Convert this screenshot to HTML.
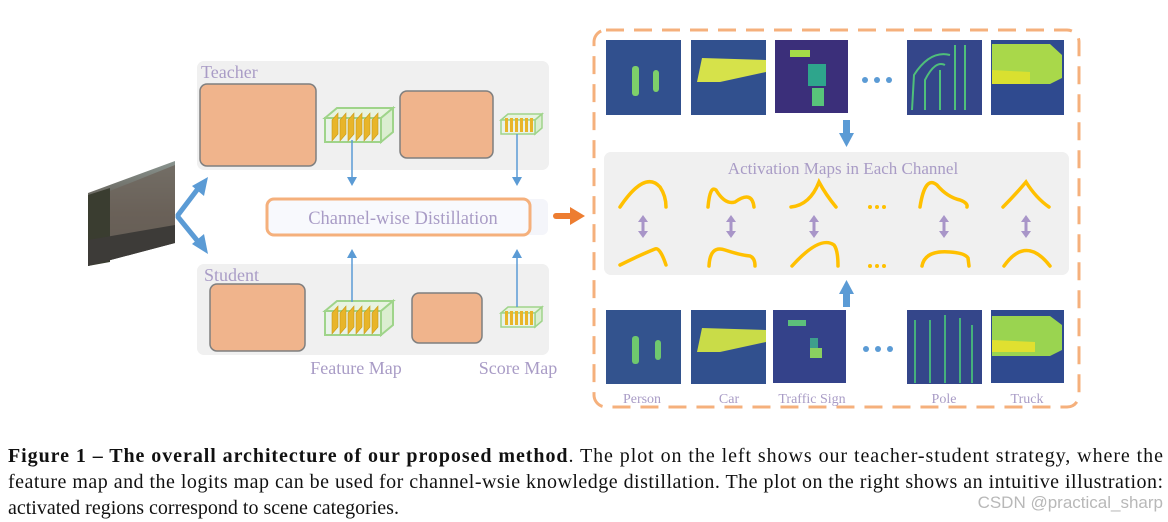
<!DOCTYPE html>
<html><head><meta charset="utf-8"><style>
html,body{margin:0;padding:0;background:#fff;}
svg{display:block;}
text{font-family:"Liberation Serif",serif;}
</style></head><body>
<svg width="1168" height="522" viewBox="0 0 1168 522" xmlns="http://www.w3.org/2000/svg">
<defs>
<linearGradient id="sky" x1="0" y1="0" x2="0" y2="1"><stop offset="0" stop-color="#8a9590"/><stop offset="0.5" stop-color="#5a5048"/><stop offset="1" stop-color="#3a3a36"/></linearGradient>
<g id="fm">
  <polygon points="0,10 12,0 68,0 56,10" fill="#e8f3e0" stroke="#9fd48a" stroke-width="2"/>
  <polygon points="56,10 68,0 68,24 56,34" fill="#dbeed0" stroke="#9fd48a" stroke-width="2"/>
  <rect x="0" y="10" width="56" height="24" fill="#e9f2ea" stroke="#9fd48a" stroke-width="2"/>
  <g fill="#e8b52a" stroke="#c99a18" stroke-width="0.6">
    <polygon points="7,12 13,5 13,26 7,33"/><polygon points="15,12 21,5 21,26 15,33"/><polygon points="23,12 29,5 29,26 23,33"/><polygon points="31,12 37,5 37,26 31,33"/><polygon points="39,12 45,5 45,26 39,33"/><polygon points="47,12 53,5 53,26 47,33"/>
  </g>
</g>
<g id="sm">
  <polygon points="0,6 7,0 41,0 34,6" fill="#e8f3e0" stroke="#9fd48a" stroke-width="1.5"/>
  <polygon points="34,6 41,0 41,14 34,20" fill="#dbeed0" stroke="#9fd48a" stroke-width="1.5"/>
  <rect x="0" y="6" width="34" height="14" fill="#e9f2ea" stroke="#9fd48a" stroke-width="1.5"/>
  <g fill="#e8b52a"><rect x="4" y="4" width="3" height="14"/><rect x="9" y="4" width="3" height="14"/><rect x="14" y="4" width="3" height="14"/><rect x="19" y="4" width="3" height="14"/><rect x="24" y="4" width="3" height="14"/><rect x="29" y="4" width="3" height="14"/></g>
</g>
</defs>

<!-- input image -->
<polygon points="88,193 175,161 175,243 88,266" fill="url(#sky)"/>
<polygon points="100,195 175,165 175,240 100,262" fill="#6e655c" opacity="0.8"/>
<polygon points="88,195 110,188 110,262 88,266" fill="#3a3d30"/>
<polygon points="88,240 175,225 175,243 88,266" fill="#3d3b38"/>
<!-- blue arrows -->
<g stroke="#5b9bd5" stroke-width="5" fill="none" stroke-linecap="round"><line x1="178" y1="215" x2="200" y2="186"/><line x1="178" y1="217" x2="200" y2="244"/></g>
<polygon points="208,177 204,196 192,186" fill="#5b9bd5"/>
<polygon points="208,254 192,244 204,234" fill="#5b9bd5"/>

<!-- teacher panel -->
<rect x="197" y="61" width="352" height="109" rx="7" fill="#f0f0f0"/>
<text x="201" y="78" font-size="18" fill="#a99cc6">Teacher</text>
<rect x="200" y="84" width="116" height="82" rx="7" fill="#f0b48c" stroke="#7f7f7f" stroke-width="1.5"/>
<rect x="400" y="91" width="93" height="67" rx="7" fill="#f0b48c" stroke="#7f7f7f" stroke-width="1.5"/>
<use href="#fm" x="325" y="108"/>
<use href="#sm" x="501" y="114"/>
<!-- student panel -->
<rect x="197" y="264" width="352" height="91" rx="7" fill="#f0f0f0"/>
<text x="204" y="281" font-size="18" fill="#a99cc6">Student</text>
<rect x="210" y="284" width="95" height="67" rx="7" fill="#f0b48c" stroke="#7f7f7f" stroke-width="1.5"/>
<rect x="412" y="293" width="70" height="50" rx="7" fill="#f0b48c" stroke="#7f7f7f" stroke-width="1.5"/>
<use href="#fm" x="325" y="301"/>
<use href="#sm" x="501" y="307"/>
<!-- distillation -->
<rect x="267" y="199" width="281" height="36" rx="6" fill="#f4f5fa"/>
<rect x="267" y="199" width="263" height="36" rx="7" fill="#f8f9fd" stroke="#f5b07c" stroke-width="3"/>
<text x="403" y="224" font-size="18.5" fill="#a99cc6" text-anchor="middle">Channel-wise Distillation</text>
<g stroke="#5b9bd5" stroke-width="1.5"><line x1="352" y1="140" x2="352" y2="180"/><line x1="517" y1="134" x2="517" y2="180"/><line x1="352" y1="256" x2="352" y2="302"/><line x1="517" y1="256" x2="517" y2="307"/></g>
<g fill="#5b9bd5"><polygon points="347,177 357,177 352,186"/><polygon points="512,177 522,177 517,186"/><polygon points="347,258 357,258 352,249"/><polygon points="512,258 522,258 517,249"/></g>
<text x="356" y="374" font-size="18" fill="#a99cc6" text-anchor="middle">Feature Map</text>
<text x="518" y="374" font-size="18" fill="#a99cc6" text-anchor="middle">Score Map</text>
<!-- orange arrow -->
<line x1="556" y1="216" x2="574" y2="216" stroke="#ed7d31" stroke-width="6" stroke-linecap="round"/>
<polygon points="570,207 585,216 570,225" fill="#ed7d31"/>

<!-- right dashed panel -->
<rect x="594" y="30" width="485" height="377" rx="12" fill="none" stroke="#f5b07c" stroke-width="3" stroke-dasharray="18,10"/>
<!-- top heatmaps -->
<g>
<rect x="606" y="40" width="75" height="75" fill="#31508e"/>
<g fill="#7ed06a"><rect x="632" y="66" width="7" height="30" rx="3"/><rect x="653" y="70" width="6" height="22" rx="3"/></g>
<rect x="691" y="40" width="75" height="75" fill="#31508e"/>
<path d="M697,82 L702,58 L766,60 L766,72 L720,82 Z" fill="#d6e24a"/>
<rect x="775" y="40" width="73" height="73" fill="#3b2f7a"/>
<rect x="790" y="50" width="20" height="7" fill="#a5dd48"/><rect x="808" y="64" width="18" height="22" fill="#2ea58c"/><rect x="812" y="88" width="12" height="18" fill="#58c47a"/>
<rect x="907" y="40" width="75" height="75" fill="#34468a"/>
<g stroke="#4fbf7a" stroke-width="2" fill="none"><path d="M912,110 L914,75 Q930,50 950,55"/><path d="M925,110 L925,80 Q935,60 945,65"/><path d="M955,110 L955,45"/><path d="M965,110 L965,45"/><path d="M940,110 L940,70"/></g>
<rect x="991" y="40" width="73" height="75" fill="#2f4a8f"/>
<path d="M992,44 L1050,44 L1062,55 L1062,78 L1050,84 L992,84 Z" fill="#a9d84a"/>
<path d="M992,70 L1030,72 L1030,84 L992,84Z" fill="#d9e030"/>
</g>
<g fill="#5b9bd5"><circle cx="865" cy="80" r="3"/><circle cx="877" cy="80" r="3"/><circle cx="889" cy="80" r="3"/></g>
<!-- down arrow -->
<rect x="843" y="120" width="7" height="16" fill="#5b9bd5"/><polygon points="839,133 854,133 846.5,147" fill="#5b9bd5"/>
<!-- gray panel -->
<rect x="604" y="152" width="465" height="123" rx="7" fill="#f0f0f0"/>
<text x="843" y="174" font-size="17" fill="#a99cc6" text-anchor="middle">Activation Maps in Each Channel</text>
<g stroke="#ffc000" stroke-width="3.5" fill="none" stroke-linecap="round">
<path d="M620,207 Q645,170 660,187 Q666,196 666,207"/>
<path d="M708,207 Q710,185 716,190 Q725,205 735,202 Q752,190 754,207"/>
<path d="M791,207 Q810,205 819,182 Q826,195 836,207"/>
<path d="M920,207 Q925,175 937,185 Q947,197 960,200 Q968,203 967,207"/>
<path d="M1003,207 Q1015,195 1026,182 Q1036,198 1049,207"/>
<path d="M620,265 Q640,255 655,249 Q660,247 666,265"/>
<path d="M709,266 Q710,245 725,250 Q740,255 750,256 Q755,258 755,266"/>
<path d="M792,266 Q820,235 834,245 Q838,250 838,266"/>
<path d="M922,266 Q925,250 950,252 Q965,253 968,258 L969,266"/>
<path d="M1004,266 Q1026,235 1050,266"/>
</g>
<g fill="#ffc000"><circle cx="870" cy="207" r="2"/><circle cx="877" cy="207" r="2"/><circle cx="884" cy="207" r="2"/><circle cx="870" cy="266" r="2"/><circle cx="877" cy="266" r="2"/><circle cx="884" cy="266" r="2"/></g>
<g stroke="#a895c8" stroke-width="3" fill="#a895c8">
<line x1="643" y1="220" x2="643" y2="233"/><polygon points="638,222 648,222 643,215" stroke="none"/><polygon points="638,231 648,231 643,238" stroke="none"/>
<line x1="731" y1="220" x2="731" y2="233"/><polygon points="726,222 736,222 731,215" stroke="none"/><polygon points="726,231 736,231 731,238" stroke="none"/>
<line x1="814" y1="220" x2="814" y2="233"/><polygon points="809,222 819,222 814,215" stroke="none"/><polygon points="809,231 819,231 814,238" stroke="none"/>
<line x1="944" y1="220" x2="944" y2="233"/><polygon points="939,222 949,222 944,215" stroke="none"/><polygon points="939,231 949,231 944,238" stroke="none"/>
<line x1="1026" y1="220" x2="1026" y2="233"/><polygon points="1021,222 1031,222 1026,215" stroke="none"/><polygon points="1021,231 1031,231 1026,238" stroke="none"/>
</g>
<!-- up arrow -->
<polygon points="839,294 854,294 846.5,280" fill="#5b9bd5"/><rect x="843" y="292" width="7" height="15" fill="#5b9bd5"/>
<!-- bottom heatmaps -->
<g>
<rect x="606" y="310" width="75" height="74" fill="#33538e"/>
<g fill="#6fc86e"><rect x="632" y="336" width="7" height="28" rx="3"/><rect x="655" y="340" width="6" height="20" rx="3"/></g>
<rect x="691" y="310" width="75" height="74" fill="#31508e"/>
<path d="M697,352 L702,328 L766,330 L766,342 L720,352 Z" fill="#c9dc48"/>
<rect x="773" y="310" width="73" height="73" fill="#34428a"/>
<rect x="788" y="320" width="18" height="6" fill="#5cc07a"/><rect x="810" y="338" width="8" height="20" fill="#3e9f8c"/><rect x="810" y="348" width="12" height="10" fill="#8ad060"/>
<rect x="907" y="310" width="75" height="74" fill="#34468a"/>
<g stroke="#45b07c" stroke-width="2" fill="none"><path d="M915,383 L915,320"/><path d="M930,383 L930,320"/><path d="M945,383 L945,315"/><path d="M960,383 L960,318"/><path d="M972,383 L972,325"/></g>
<rect x="991" y="310" width="73" height="73" fill="#2f4a8f"/>
<path d="M992,316 L1050,316 L1062,325 L1062,350 L1050,356 L992,356 Z" fill="#9ad450"/>
<path d="M992,340 L1035,342 L1035,352 L992,352Z" fill="#e0e030"/>
</g>
<g fill="#5b9bd5"><circle cx="866" cy="349" r="3"/><circle cx="878" cy="349" r="3"/><circle cx="890" cy="349" r="3"/></g>
<g font-size="14" fill="#a99cc6" text-anchor="middle">
<text x="642" y="403">Person</text><text x="729" y="403">Car</text><text x="812" y="403">Traffic Sign</text><text x="944" y="403">Pole</text><text x="1027" y="403">Truck</text>
</g>

<!-- caption -->
<text x="8" y="462" font-size="20" fill="#111" textLength="1155" lengthAdjust="spacing"><tspan font-weight="bold">Figure 1 –  The overall architecture of our proposed method</tspan>.  The plot on the left shows our teacher-student strategy, where the</text>
<text x="8" y="488" font-size="20" fill="#111" textLength="1155" lengthAdjust="spacing">feature map and the logits map can be used for channel-wsie knowledge distillation. The plot on the right shows an intuitive illustration:</text>
<text x="8" y="514" font-size="20" fill="#111">activated regions correspond to scene categories.</text>
<text x="1163" y="508" font-size="17" fill="#b8b8b8" text-anchor="end" style="font-family:'Liberation Sans',sans-serif">CSDN @practical_sharp</text>
</svg>
</body></html>
